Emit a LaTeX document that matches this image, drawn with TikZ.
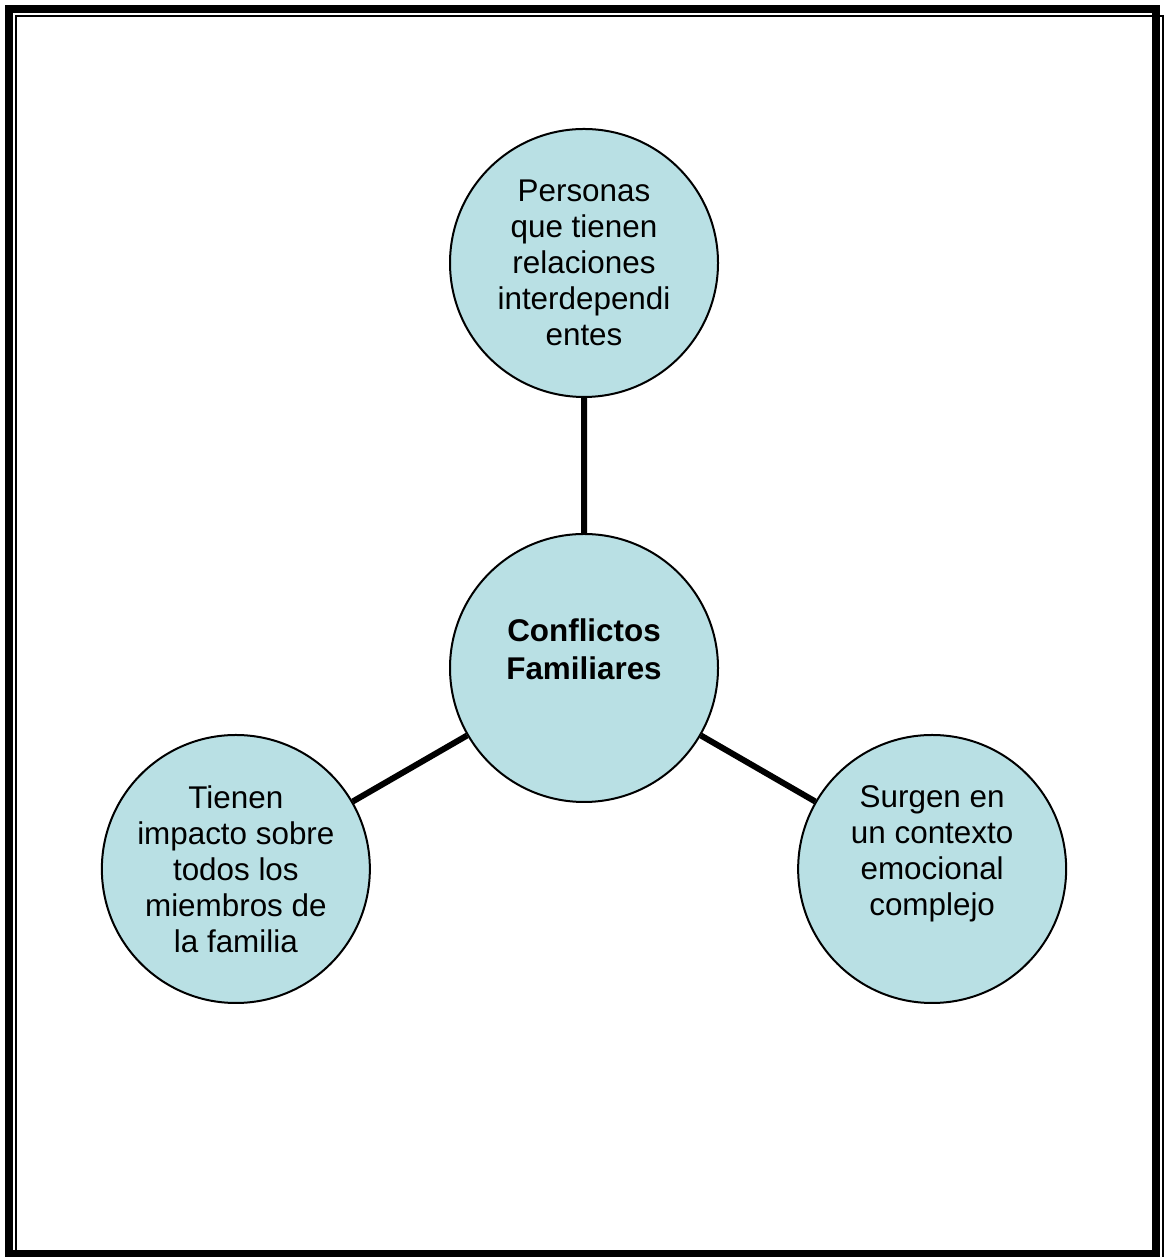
\documentclass[tikz,border=0pt]{standalone}
\usepackage{fontspec}
\setmainfont{Liberation Sans}
\usetikzlibrary{positioning, calc}
\definecolor{ideafill}{RGB}{185,224,228}
\tikzset{x=0.5pt, y=0.5pt, % One unit is one pixel of the page
        idea/.style={ % Sets the properties for each circle
            circle,
            draw,
            line width=1pt,
            fill=ideafill,
            minimum size=134pt,
            inner sep=0pt,
            align=center,
            font=\fontsize{15.7}{18}\selectfont},
        core/.style={ % The circle in the middle
            idea,
            font=\fontsize{15.7}{19}\selectfont\bfseries},
        link/.style={ % Sets the properties for each connector
            draw,
            line width=3pt}
        }

\begin{document}
\begin{tikzpicture}
    \useasboundingbox (0,0) rectangle (1165,1257);
    % page border, thick and thin
    \draw[line width=4pt] (9,3) rectangle (1156,1248);
    \draw[line width=1pt] (16,0) -- (16,1241) -- (1163,1241) -- (1163,0);

    \node[core] (conf) at (584,589) {Conflictos\\Familiares\\[0pt]\mbox{}};
    \node[idea] (pers) [above=67.5pt of conf] {Personas\\que tienen\\relaciones\\interdependi\\entes};
    \node[idea] (impacto) at ($(conf)+(210:201pt)$) {Tienen\\impacto sobre\\todos los\\miembros de\\la familia};
    \node[idea] (surgen) at ($(conf)+(330:201pt)$) {Surgen en\\un contexto\\emocional\\complejo\\[0pt]\mbox{}};

    \draw[link]
        (conf) -- (pers)
        (conf) -- (impacto)
        (conf) -- (surgen);
\end{tikzpicture}
\end{document}
